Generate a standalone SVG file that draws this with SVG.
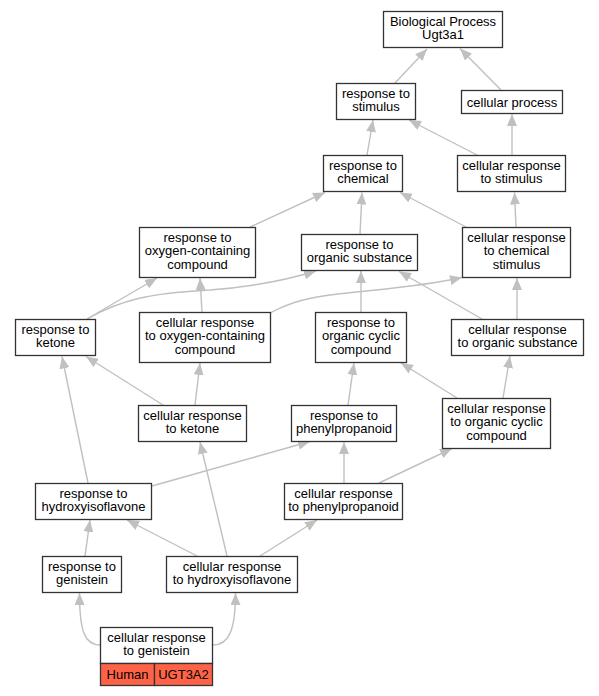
<svg xmlns="http://www.w3.org/2000/svg" width="599" height="696" viewBox="0 0 599 696">
<style>
.n rect{fill:#fff;stroke:#333;stroke-width:1.3}
.n rect.lab{fill:#ff6347}
text{font-family:"Liberation Sans",Arial,sans-serif;font-size:13px;fill:#000;text-anchor:middle}
#edges path{fill:none;stroke:#c0c0c0;stroke-width:1.4;marker-end:url(#ah)}
</style>
<defs>
<marker id="ah" markerUnits="userSpaceOnUse" markerWidth="12" markerHeight="10" refX="12" refY="5" orient="auto" viewBox="0 0 12 10">
<path d="M0,0 L12,5 L0,10 z" fill="#c0c0c0"/>
</marker>
</defs>
<rect width="599" height="696" fill="#fff"/>
<g id="edges">
<path d="M395,83 L427,49"/>
<path d="M501,90 L460,48.5"/>
<path d="M367,155 L373,120"/>
<path d="M477,155 L409,120"/>
<path d="M512,155 L512,114"/>
<path d="M466,227 L400,192.5"/>
<path d="M516,227 L514.5,192.5"/>
<path d="M360,234 L362,192.5"/>
<path d="M250,227 L325,192.5"/>
<path d="M87,319 L157,278"/>
<path d="M87,319 C120,300 150,293 210,290 C250,287 280,282 316,271"/>
<path d="M202,312 L200,278"/>
<path d="M270,313 C285,305 300,299 330,295 C380,289 420,287 462,277.5"/>
<path d="M361,313 L361,271"/>
<path d="M482,319 L399,271.5"/>
<path d="M517,319 L517,278"/>
<path d="M163,405 L86,356.5"/>
<path d="M195,405 L200,363"/>
<path d="M348,405 L354,363"/>
<path d="M457,398 L401,363"/>
<path d="M503,398 L510,356"/>
<path d="M88,483 L62,356.5"/>
<path d="M152,486 L310,441.5"/>
<path d="M344,483 L344,442"/>
<path d="M379,483 L452,448.5"/>
<path d="M85,556 L90,520"/>
<path d="M197,556 L127,520"/>
<path d="M227,556 L200,442"/>
<path d="M260,556 L317,520"/>
<path d="M100,645 C85,645 79.5,632 79.5,593"/>
<path d="M213,645 C228,645 235.5,632 235.5,593"/>
</g>
<g id="n1" class="n"><rect x="383.5" y="11.5" width="119" height="36"/><text x="443" y="25.5">Biological Process</text><text x="443" y="39">Ugt3a1</text></g>
<g id="n2" class="n"><rect x="336.5" y="83.5" width="79" height="36"/><text x="376" y="97.5">response to</text><text x="376" y="111">stimulus</text></g>
<g id="n3" class="n"><rect x="461.5" y="90.5" width="101" height="23"/><text x="512" y="106.7">cellular process</text></g>
<g id="n4" class="n"><rect x="323.5" y="155.5" width="79" height="36"/><text x="363" y="169.5">response to</text><text x="363" y="183">chemical</text></g>
<g id="n5" class="n"><rect x="457.5" y="155.5" width="108" height="36"/><text x="511.5" y="169.5">cellular response</text><text x="511.5" y="183">to stimulus</text></g>
<g id="n6" class="n"><rect x="139.5" y="227.5" width="116" height="50"/><text x="197.5" y="241.5">response to</text><text x="197.5" y="255">oxygen-containing</text><text x="197.5" y="268.5">compound</text></g>
<g id="n7" class="n"><rect x="301.5" y="234.5" width="116" height="36"/><text x="359.5" y="248.5">response to</text><text x="359.5" y="262">organic substance</text></g>
<g id="n8" class="n"><rect x="462.5" y="227.5" width="108" height="50"/><text x="516.5" y="241.5">cellular response</text><text x="516.5" y="255">to chemical</text><text x="516.5" y="268.5">stimulus</text></g>
<g id="n9" class="n"><rect x="15.5" y="319.5" width="80" height="36"/><text x="55.5" y="333.5">response to</text><text x="55.5" y="347">ketone</text></g>
<g id="n10" class="n"><rect x="139.5" y="312.5" width="131" height="50"/><text x="205" y="326.5">cellular response</text><text x="205" y="340">to oxygen-containing</text><text x="205" y="353.5">compound</text></g>
<g id="n11" class="n"><rect x="315.5" y="312.5" width="91" height="50"/><text x="361" y="326.5">response to</text><text x="361" y="340">organic cyclic</text><text x="361" y="353.5">compound</text></g>
<g id="n12" class="n"><rect x="451.5" y="319.5" width="132" height="36"/><text x="517.5" y="333.5">cellular response</text><text x="517.5" y="347">to organic substance</text></g>
<g id="n13" class="n"><rect x="138.5" y="405.5" width="108" height="36"/><text x="192.5" y="419.5">cellular response</text><text x="192.5" y="433">to ketone</text></g>
<g id="n14" class="n"><rect x="291.5" y="405.5" width="105" height="36"/><text x="344" y="419.5">response to</text><text x="344" y="433">phenylpropanoid</text></g>
<g id="n15" class="n"><rect x="442.5" y="398.5" width="108" height="50"/><text x="496.5" y="412.5">cellular response</text><text x="496.5" y="426">to organic cyclic</text><text x="496.5" y="439.5">compound</text></g>
<g id="n16" class="n"><rect x="35.5" y="483.5" width="116" height="36"/><text x="93.5" y="497.5">response to</text><text x="93.5" y="511">hydroxyisoflavone</text></g>
<g id="n17" class="n"><rect x="284.5" y="483.5" width="118" height="36"/><text x="343.5" y="497.5">cellular response</text><text x="343.5" y="511">to phenylpropanoid</text></g>
<g id="n18" class="n"><rect x="42.5" y="556.5" width="79" height="36"/><text x="82" y="570.5">response to</text><text x="82" y="584">genistein</text></g>
<g id="n19" class="n"><rect x="166.5" y="556.5" width="131" height="36"/><text x="232" y="570.5">cellular response</text><text x="232" y="584">to hydroxyisoflavone</text></g>
<g id="n20" class="n"><rect x="100.5" y="627.5" width="112" height="36"/><rect class="lab" x="100.5" y="663.5" width="54" height="22"/><rect class="lab" x="154.5" y="663.5" width="58" height="22"/><text x="156.5" y="641.5">cellular response</text><text x="156.5" y="655">to genistein</text><text x="127.5" y="679">Human</text><text x="183.5" y="679">UGT3A2</text></g>
</svg>
